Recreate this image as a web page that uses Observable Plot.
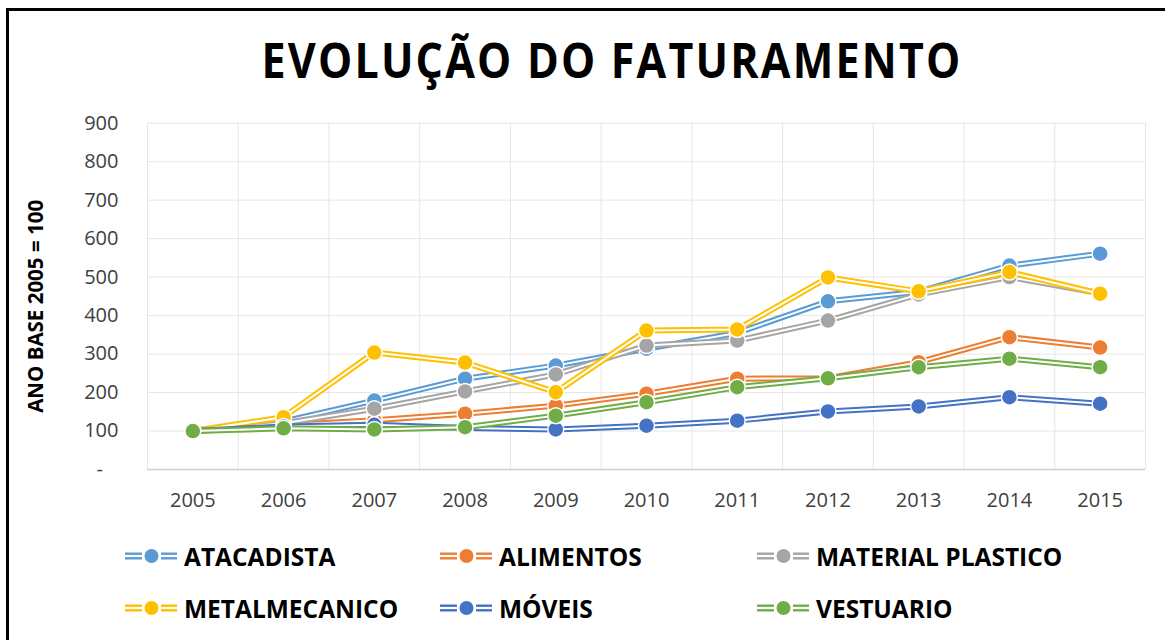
<!DOCTYPE html>
<html><head><meta charset="utf-8">
<script src="https://cdn.jsdelivr.net/npm/d3@7"></script>
<script src="https://cdn.jsdelivr.net/npm/@observablehq/plot@0.6"></script>
<style>
body{margin:0;background:#fff;font-family:"Open Sans",sans-serif;}
#page{position:relative;width:1165px;height:640px;overflow:hidden;background:#fff;}
#border{position:absolute;left:6px;top:8px;width:1300px;height:800px;border-top:3px solid #000;border-left:3px solid #000;box-sizing:border-box;}
#title{position:absolute;left:611.5px;top:35px;font-weight:700;font-size:49px;line-height:1;letter-spacing:2.5px;color:#000;white-space:nowrap;transform-origin:0 0;}
#chart{position:absolute;left:0;top:100px;}
.leg{position:absolute;display:flex;align-items:center;height:40px;font-weight:700;font-size:24.5px;color:#000;white-space:nowrap;}
.leg svg{margin-right:5px;}
</style></head>
<body>
<div id="page">
  <div id="border"></div>
  <div id="title">EVOLUÇÃO DO FATURAMENTO</div>
  <div id="chart"></div>
</div>
<script>
const years = [2005, 2006, 2007, 2008, 2009, 2010, 2011, 2012, 2013, 2014, 2015];
const atacadista = [100, 125, 179, 236, 270, 314, 355, 437, 462, 530, 561];
const alimentos  = [100, 115, 128, 145, 166, 197, 236, 237, 279, 344, 317];
const materialPlastico = [100, 120, 158, 203, 247, 322, 335, 387, 455, 500, 458];
const metalmecanico = [100, 136, 304, 278, 201, 361, 364, 499, 463, 513, 457];
const moveis = [100, 112, 116, 108, 104, 114, 127, 151, 164, 188, 171];
const vestuario = [100, 107, 104, 110, 140, 175, 214, 237, 266, 288, 266];

const seriesNames = ["ATACADISTA", "ALIMENTOS", "MATERIAL PLASTICO", "METALMECANICO", "MÓVEIS", "VESTUARIO"];
const seriesColors = ["#5B9BD5", "#ED7D31", "#A5A5A5", "#FFC000", "#4472C4", "#70AD47"];
const seriesValues = [atacadista, alimentos, materialPlastico, metalmecanico, moveis, vestuario];
const yTicks = [0, 100, 200, 300, 400, 500, 600, 700, 800, 900];
const yTitle = "ANO BASE 2005 = 100";

const rows = seriesNames.flatMap((s, i) => years.map((yr, j) => ({series: s, year: yr, value: seriesValues[i][j]})));
const bounds = years.map(y => y - 0.5).concat([years[years.length - 1] + 0.5]);

const seriesMarks = seriesNames.flatMap(s => {
  const d = rows.filter(r => r.series === s);
  return [
    Plot.line(d, {x: "year", y: "value", stroke: "series", strokeWidth: 6, strokeLinejoin: "round"}),
    Plot.line(d, {x: "year", y: "value", stroke: "white", strokeWidth: 2, strokeLinejoin: "round"}),
    Plot.dot(d, {x: "year", y: "value", fill: "series", stroke: "white", strokeWidth: 1.5, r: 8})
  ];
});

const chart = Plot.plot({
  width: 1165,
  height: 420,
  marginLeft: 147,
  marginRight: 20,
  marginTop: 22.7,
  marginBottom: 51,
  style: {fontFamily: "'Open Sans', sans-serif", fontSize: "20px", color: "#404040", background: "transparent"},
  x: {domain: [bounds[0], bounds[bounds.length - 1]], ticks: years, tickFormat: d => String(d), tickSize: 0, tickPadding: 23, label: null},
  y: {domain: [0, 900], ticks: yTicks, tickFormat: d => d === 0 ? "-\u00a0\u00a0\u00a0" : String(d), tickSize: 0, tickPadding: 29, label: null},
  color: {domain: seriesNames, range: seriesColors},
  marks: [
    Plot.ruleY(yTicks.filter(d => d > 0), {stroke: "#e6e6e6", strokeWidth: 1}),
    Plot.ruleX(bounds, {stroke: "#e6e6e6", strokeWidth: 1}),
    Plot.ruleY([0], {stroke: "#d0d0d0", strokeWidth: 1.5}),
    Plot.text([yTitle], {frameAnchor: "left", textAnchor: "middle", rotate: -90, dx: -111, dy: 10, fontWeight: "bold", fontSize: 20.5, fill: "#000"}),
    ...seriesMarks
  ]
});
document.getElementById("chart").appendChild(chart);

// title: keep the reference's condensed width (about 701px), centred
const title = document.getElementById("title");
const tw = title.getBoundingClientRect().width;
const sx = Math.min(1, 701 / tw);
title.style.transform = `scaleX(${sx}) translateX(${-tw / 2}px)`;

// legend
const colX = [125, 440, 757];
const rowY = [556, 608];
const page = document.getElementById("page");
seriesNames.forEach((s, i) => {
  const c = i % 3, r = Math.floor(i / 3);
  const div = document.createElement("div");
  div.className = "leg";
  div.style.left = colX[c] + "px";
  div.style.top = (rowY[r] - 20) + "px";
  const col = seriesColors[i];
  div.innerHTML = `<svg width="54" height="20" viewBox="0 0 54 20">
    <line x1="0" x2="17" y1="10" y2="10" stroke="${col}" stroke-width="7"/>
    <line x1="0" x2="17" y1="10" y2="10" stroke="white" stroke-width="2.2"/>
    <line x1="36" x2="52" y1="10" y2="10" stroke="${col}" stroke-width="7"/>
    <line x1="36" x2="52" y1="10" y2="10" stroke="white" stroke-width="2.2"/>
    <circle cx="26.5" cy="10" r="7" fill="${col}"/>
  </svg><span>${s}</span>`;
  page.appendChild(div);
});
</script>
</body></html>
